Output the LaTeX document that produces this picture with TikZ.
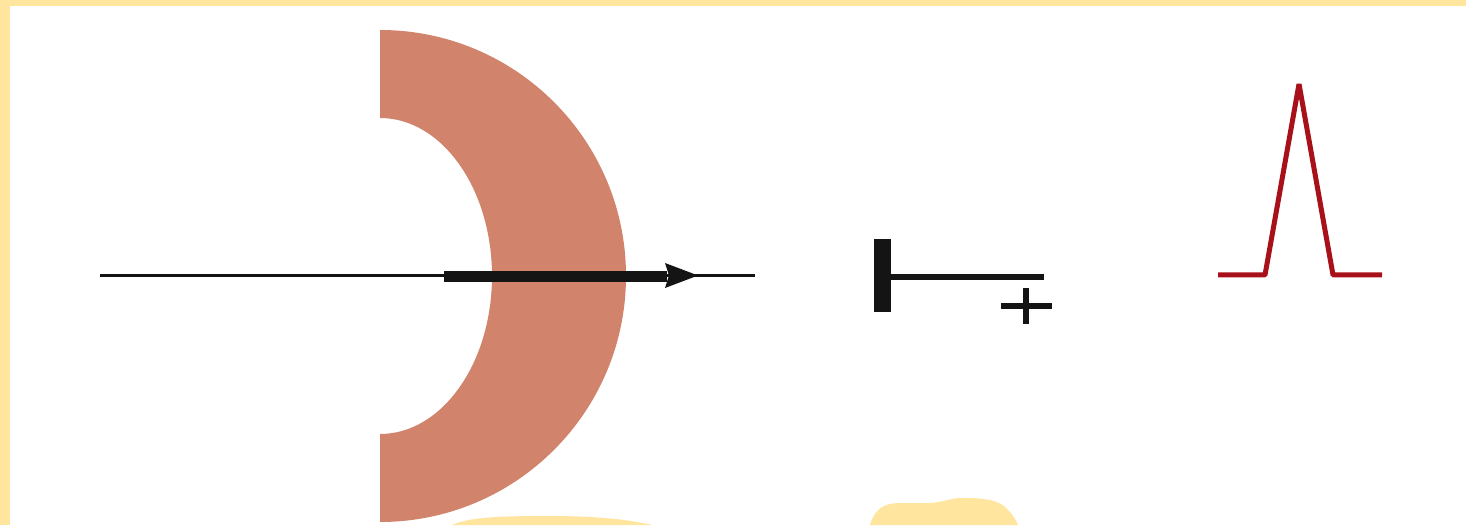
\documentclass[tikz,border=0pt]{standalone}
\definecolor{paleyellow}{HTML}{FFE59D}
\definecolor{terracotta}{HTML}{D1836B}
\definecolor{inkblack}{HTML}{141414}
\definecolor{darkred}{HTML}{A8111A}
\tikzset{
  yellowfill/.style={fill=paleyellow, draw=none},
  ringfill/.style={fill=terracotta, draw=none},
  inkfill/.style={fill=inkblack, draw=none},
  thinline/.style={draw=inkblack, line width=2.5pt},
  pulseline/.style={draw=darkred, line width=5pt, line join=bevel},
}
\begin{document}
\begin{tikzpicture}[x=1pt,y=1pt]
\useasboundingbox (0,0) rectangle (1466,525);
\fill[white] (0,0) rectangle (1466,525);
% frame
\fill[yellowfill] (0,519) rectangle (1466,525);
\fill[yellowfill] (0,0) rectangle (10,525);
% bottom blobs
\fill[yellowfill] (452,0) .. controls (470,8) and (500,9) .. (550,9) .. controls (600,9) and (630,5) .. (652,0) -- cycle;
\fill[yellowfill] (870,0) .. controls (875,17) and (885,22) .. (900,22) -- (930,22) .. controls (945,23) and (950,27) .. (962,27) .. controls (985,27) and (1000,25) .. (1008,15) .. controls (1013,10) and (1016,5) .. (1018,0) -- cycle;
% half ring
\fill[ringfill] (380,495) arc[start angle=90, end angle=-90, radius=246] -- (380,91)
  arc[start angle=-90, end angle=90, x radius=112, y radius=158] -- cycle;
% axis line and arrow
\coordinate (lineL) at (100,249.6);
\coordinate (lineR) at (755,249.6);
\draw[thinline] (lineL) -- (lineR);
\coordinate (shaftL) at (444,243);
\coordinate (shaftR) at (667,254);
\fill[inkfill] (shaftL) rectangle (shaftR);
\coordinate (tip) at (698,249.5);
\coordinate (headT) at (665,262);
\coordinate (headB) at (665,237);
\fill[inkfill] (headT) -- (tip) -- (headB) -- (669,249.5) -- cycle;
% bar symbol
\coordinate (barA) at (874,213);
\coordinate (barB) at (891,286);
\fill[inkfill] (barA) rectangle (barB);
\coordinate (stemA) at (891,245);
\coordinate (stemB) at (1044,251);
\fill[inkfill] (stemA) rectangle (stemB);
% plus
\fill[inkfill] (1001,216) rectangle (1052,222);
\fill[inkfill] (1023,201) rectangle (1029,237);
% pulse
\coordinate (p1) at (1218,250);
\coordinate (p2) at (1265,250);
\coordinate (p3) at (1299,441);
\coordinate (p4) at (1333,250);
\coordinate (p5) at (1382,250);
\draw[pulseline] (p1) -- (p2) -- (p3) -- (p4) -- (p5);
\end{tikzpicture}
\end{document}
